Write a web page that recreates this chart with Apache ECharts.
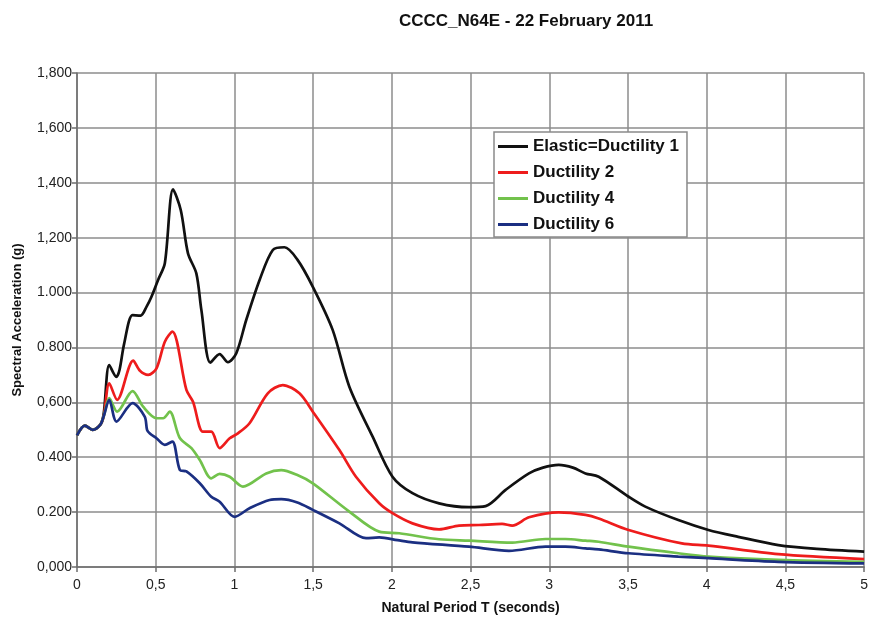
<!DOCTYPE html>
<html>
<head>
<meta charset="utf-8">
<script src="https://cdn.jsdelivr.net/npm/echarts@6/dist/echarts.min.js"></script>
<style>html,body{margin:0;padding:0;background:#fff;}#c{width:871px;height:622px;}</style>
</head>
<body>
<div id="c"></div>
<script>
var titleText = 'CCCC_N64E - 22 February 2011';
var seriesNames = ['Elastic=Ductility 1', 'Ductility 2', 'Ductility 4', 'Ductility 6'];
var xTickLabels = ['0','0,5','1','1,5','2','2,5','3','3,5','4','4,5','5'];
var yTickLabels = ['0,000','0.200','0.400','0,600','0.800','1.000','1,200','1,400','1,600','1,800'];

var elasticT  = [0,0.05,0.1,0.15,0.17,0.205,0.25,0.27,0.30,0.353,0.404,0.442,0.473,0.515,0.558,0.61,0.659,0.705,0.758,0.79,0.847,0.906,0.959,1.012,1.075,1.16,1.244,1.318,1.40,1.498,1.624,1.73,1.878,2.004,2.131,2.30,2.49,2.596,2.723,2.871,2.96,3.06,3.15,3.23,3.314,3.504,3.61,3.82,4.011,4.2,4.455,4.7,5.0];
var elasticSa = [0.48,0.515,0.50,0.52,0.56,0.736,0.693,0.718,0.815,0.918,0.916,0.949,0.985,1.046,1.107,1.376,1.301,1.143,1.07,0.937,0.745,0.776,0.746,0.779,0.90,1.046,1.155,1.165,1.12,1.021,0.864,0.657,0.475,0.329,0.269,0.232,0.218,0.222,0.281,0.341,0.362,0.372,0.362,0.341,0.329,0.256,0.22,0.171,0.135,0.11,0.08,0.066,0.056];

var duct2T  = [0,0.05,0.1,0.15,0.17,0.205,0.255,0.357,0.40,0.452,0.505,0.558,0.606,0.695,0.737,0.80,0.853,0.906,0.97,1.022,1.096,1.212,1.307,1.413,1.498,1.667,1.772,1.92,2.004,2.131,2.30,2.427,2.554,2.70,2.765,2.871,3.06,3.23,3.314,3.504,3.842,4.011,4.455,5.0];
var duct2Sa = [0.48,0.515,0.50,0.52,0.55,0.669,0.609,0.752,0.715,0.70,0.724,0.821,0.858,0.645,0.602,0.493,0.493,0.433,0.469,0.487,0.524,0.633,0.663,0.633,0.566,0.426,0.329,0.232,0.196,0.159,0.137,0.151,0.153,0.157,0.151,0.181,0.199,0.19,0.177,0.135,0.086,0.078,0.047,0.029];

var duct4T  = [0,0.05,0.1,0.15,0.17,0.205,0.255,0.353,0.42,0.505,0.547,0.589,0.653,0.727,0.78,0.853,0.906,0.97,1.054,1.202,1.297,1.40,1.498,1.73,1.92,2.047,2.30,2.49,2.765,2.976,3.103,3.23,3.314,3.504,3.82,4.011,4.455,5.0];
var duct4Sa = [0.48,0.515,0.50,0.52,0.55,0.615,0.566,0.641,0.584,0.542,0.542,0.566,0.47,0.433,0.39,0.323,0.339,0.329,0.293,0.341,0.353,0.335,0.305,0.202,0.129,0.123,0.101,0.096,0.089,0.102,0.102,0.096,0.092,0.074,0.05,0.038,0.026,0.019];

var duct6T  = [0,0.05,0.1,0.15,0.17,0.205,0.251,0.353,0.43,0.445,0.463,0.505,0.558,0.606,0.653,0.695,0.78,0.853,0.906,1.001,1.096,1.223,1.297,1.40,1.498,1.667,1.836,1.92,2.036,2.131,2.49,2.744,2.976,3.103,3.23,3.314,3.504,3.82,4.011,4.455,5.0];
var duct6Sa = [0.48,0.515,0.50,0.52,0.55,0.609,0.53,0.597,0.548,0.50,0.486,0.469,0.445,0.457,0.354,0.348,0.305,0.256,0.238,0.183,0.214,0.244,0.247,0.235,0.208,0.159,0.105,0.108,0.098,0.09,0.074,0.059,0.074,0.074,0.068,0.064,0.05,0.038,0.032,0.019,0.013];

var colors = ['#111111', '#ee1c1c', '#72c24c', '#1b2f82'];

function pairs(t, s) { return t.map(function (v, i) { return [v, s[i]]; }); }
var allT = [elasticT, duct2T, duct4T, duct6T];
var allSa = [elasticSa, duct2Sa, duct4Sa, duct6Sa];

var chart = echarts.init(document.getElementById('c'), null, { renderer: 'canvas' });
var font = 'Arial, "Liberation Sans", Helvetica, sans-serif';
chart.setOption({
  animation: false,
  backgroundColor: '#ffffff',
  title: {
    text: titleText,
    left: 394, top: 8,
    textStyle: { fontFamily: font, fontSize: 17, fontWeight: 'bold', color: '#111' }
  },
  legend: {
    orient: 'vertical',
    left: 494, top: 132,
    padding: [6, 8, 4, 4],
    itemWidth: 30, itemHeight: 3, itemGap: 9,
    icon: 'rect',
    backgroundColor: '#fff',
    borderColor: '#8a8a8a', borderWidth: 1.5,
    textStyle: { fontFamily: font, fontSize: 17, fontWeight: 'bold', color: '#111', lineHeight: 16 },
    data: seriesNames
  },
  grid: { left: 77, right: 5, top: 73, bottom: 55, containLabel: false },
  xAxis: {
    type: 'value', min: 0, max: 5, interval: 0.5,
    name: 'Natural Period T (seconds)', nameLocation: 'middle', nameGap: 34,
    nameTextStyle: { fontFamily: font, fontSize: 14, fontWeight: 'bold', color: '#111' },
    axisLine: { show: true, lineStyle: { color: '#6e6e6e', width: 1.5 } },
    axisTick: { show: true, length: 5, lineStyle: { color: '#6e6e6e', width: 1.5 } },
    axisLabel: {
      fontFamily: font, fontSize: 14, color: '#222', margin: 11,
      formatter: function (v) { return xTickLabels[Math.round(v / 0.5)]; }
    },
    splitLine: { show: true, lineStyle: { color: '#8c8c8c', width: 1.5 } }
  },
  yAxis: {
    type: 'value', min: 0, max: 1.8, interval: 0.2,
    name: 'Spectral Acceleration (g)', nameLocation: 'middle', nameGap: 53, nameRotate: 90,
    nameTextStyle: { fontFamily: font, fontSize: 13, fontWeight: 'bold', color: '#111' },
    axisLine: { show: true, lineStyle: { color: '#6e6e6e', width: 1.5 } },
    axisTick: { show: true, length: 5, lineStyle: { color: '#6e6e6e', width: 1.5 } },
    axisLabel: {
      fontFamily: font, fontSize: 14, color: '#222', margin: 5,
      formatter: function (v) { return yTickLabels[Math.round(v / 0.2)]; }
    },
    splitLine: { show: true, lineStyle: { color: '#8c8c8c', width: 1.5 } }
  },
  series: seriesNames.map(function (n, i) {
    return {
      name: n, type: 'line', symbol: 'none', smooth: 0.3,
      color: colors[i],
      lineStyle: { color: colors[i], width: 2.7 },
      data: pairs(allT[i], allSa[i]),
      z: 2 + i
    };
  })
});
</script>
</body>
</html>
